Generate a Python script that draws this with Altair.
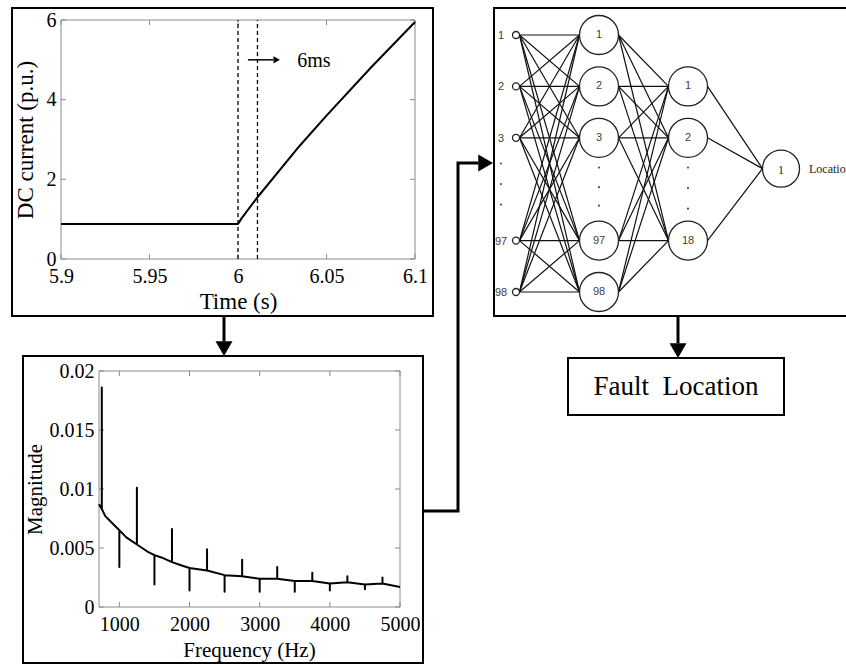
import altair as alt
import numpy as np
import pandas as pd

W, H = 846, 665
SERIF = "Liberation Serif"
SANS = "Liberation Sans"
FRAME = "#8c8c8c"

# ---------------- data ----------------
# DC current after the fault
time_s = [5.9, 6.0, 6.002, 6.011, 6.035, 6.05, 6.075, 6.1]
current_pu = [0.88, 0.88, 1.02, 1.55, 2.85, 3.6, 4.8, 5.95]
window_marks_s = [6.0, 6.011]
window_note = "6ms"
top_x_ticks = [5.9, 5.95, 6.0, 6.05, 6.1]
top_y_ticks = [0, 2, 4, 6]

# spectrum of the DC current
base_freq = [710, 750, 800, 900, 1000, 1100, 1250, 1400, 1500, 1600, 1750, 1900,
             2000, 2250, 2500, 2750, 3000, 3250, 3500, 3750, 4000, 4250, 4500, 4750, 5000]
base_mag = [0.0087, 0.0083, 0.0077, 0.0071, 0.0065, 0.0059, 0.0053, 0.0047, 0.0044,
            0.0042, 0.0038, 0.0035, 0.0033, 0.0031, 0.0027, 0.0026, 0.0024, 0.0024,
            0.0022, 0.0022, 0.0020, 0.0021, 0.0019, 0.0020, 0.0017]
spike_freq = [750, 1000, 1250, 1500, 1750, 2000, 2250, 2500, 2750, 3000, 3250, 3500,
              3750, 4000, 4250, 4500, 4750]
spike_mag = [0.0186, 0.0034, 0.0101, 0.0019, 0.0066, 0.0014, 0.0049, 0.0013, 0.0040,
             0.0013, 0.0034, 0.0013, 0.0029, 0.0014, 0.0026, 0.0015, 0.0025]
bot_x_ticks = [1000, 2000, 3000, 4000, 5000]
bot_y_ticks = [0, 0.005, 0.01, 0.015, 0.02]

# neural network
input_labels = ["1", "2", "3", "97", "98"]
hidden1_labels = ["1", "2", "3", "97", "98"]
hidden2_labels = ["1", "2", "18"]
output_labels = ["1"]
output_name = "Location"
result_label = "Fault\u00a0 Location"

# ---------------- layout (pixels) ----------------
TOP_PX_X, TOP_PX_Y = [61, 415], [259, 20]
BOT_PX_X, BOT_PX_Y = [99, 400], [607, 371]
TICK_PX = 5


def panel(xdom, ydom, pxx, pxy, xticks, yticks, xtitle, ytitle, xt_pos, yt_pos,
          lsize, tsize, curve_df, curve_width, extra, xfmt, yfmt):
    def xs():
        return alt.Scale(domain=xdom, range=pxx, nice=False, zero=False)

    def ys():
        return alt.Scale(domain=ydom, range=pxy, nice=False, zero=False)

    def ex(f):
        return alt.X(f, scale=xs(), axis=None)

    def ey(f):
        return alt.Y(f, scale=ys(), axis=None)

    kx = TICK_PX * (xdom[1] - xdom[0]) / (pxx[1] - pxx[0])
    ky = TICK_PX * (ydom[1] - ydom[0]) / (pxy[0] - pxy[1])

    rows = []
    for v in xticks:
        rows.append(dict(x=v, x2=v, y=ydom[0], y2=ydom[0] + ky))
        rows.append(dict(x=v, x2=v, y=ydom[1], y2=ydom[1] - ky))
    for v in yticks:
        rows.append(dict(x=xdom[0], x2=xdom[0] + kx, y=v, y2=v))
        rows.append(dict(x=xdom[1], x2=xdom[1] - kx, y=v, y2=v))
    ticks = alt.Chart(pd.DataFrame(rows)).mark_rule(color=FRAME, strokeWidth=1).encode(
        x=ex("x:Q"), x2="x2:Q", y=ey("y:Q"), y2="y2:Q")

    frame = alt.Chart(pd.DataFrame([dict(x=xdom[0], x2=xdom[1], y=ydom[0], y2=ydom[1])])).mark_rect(
        fillOpacity=0, stroke=FRAME, strokeWidth=1).encode(
        x=ex("x:Q"), x2="x2:Q", y=ey("y:Q"), y2="y2:Q")

    common = dict(domain=False, ticks=False, grid=False, labelFont=SERIF, labelFontSize=lsize,
                  labelColor="black", titleFont=SERIF, titleFontSize=tsize,
                  titleFontWeight="normal", titleColor="black", titleAlign="center",
                  titleBaseline="middle", labelFlush=False, labelOverlap=False)
    xaxis = alt.Axis(orient="bottom", offset=pxy[0] - H, values=xticks, labelPadding=7,
                     format=xfmt, title=xtitle, titleX=xt_pos[0],
                     titleY=xt_pos[1] - pxy[0], **common)
    yaxis = alt.Axis(orient="left", offset=-pxx[0], values=yticks, labelPadding=5,
                     format=yfmt, title=ytitle, titleX=yt_pos[0] - pxx[0], titleY=yt_pos[1],
                     titleAngle=270, **common)

    curve = alt.Chart(curve_df).mark_line(color="black", strokeWidth=curve_width,
                                         strokeJoin="round").encode(
        x=alt.X("x:Q", scale=xs(), axis=xaxis),
        y=alt.Y("y:Q", scale=ys(), axis=yaxis),
        order="i:Q")
    return [frame, ticks] + extra(ex, ey) + [curve]


# ---------- top panel: DC current ----------
top_df = pd.DataFrame({"x": time_s, "y": current_pu, "i": range(len(time_s))})


def top_extra(ex, ey):
    px_per_unit = (TOP_PX_X[1] - TOP_PX_X[0]) / 0.2
    marks = alt.Chart(pd.DataFrame({"x": window_marks_s, "y": 0, "y2": 6})).mark_rule(
        color="black", strokeWidth=1.3, strokeDash=[4, 3]).encode(
        x=ex("x:Q"), y=ey("y:Q"), y2="y2:Q")
    a_start, a_tip, a_y = 6.0056, 6.0237, 5.0
    head_len = 6.5 / px_per_unit
    shaft = alt.Chart(pd.DataFrame({"x": [a_start], "x2": [a_tip - head_len], "y": [a_y]})).mark_rule(
        color="black", strokeWidth=1.5).encode(
        x=ex("x:Q"), x2="x2:Q", y=ey("y:Q"))
    head = alt.Chart(pd.DataFrame({"x": [a_tip - head_len / 2], "y": [a_y]})).mark_point(
        shape="triangle-right", filled=True, color="black", opacity=1, size=55).encode(
        x=ex("x:Q"), y=ey("y:Q"))
    note = alt.Chart(pd.DataFrame({"x": [6.0335], "y": [a_y], "t": [window_note]})).mark_text(
        font=SERIF, fontSize=20, align="left", baseline="middle", color="black", dy=1).encode(
        x=ex("x:Q"), y=ey("y:Q"), text="t:N")
    return [marks, shaft, head, note]


top_layers = panel([5.9, 6.1], [0, 6], TOP_PX_X, TOP_PX_Y, top_x_ticks, top_y_ticks,
                   "Time (s)", "DC current (p.u.)", (238, 301), (25, 139.5),
                   20, 23, top_df, 2, top_extra, "~g", "d")

# ---------- bottom panel: spectrum ----------
pts_f, pts_m = [], []
spikes = dict(zip(spike_freq, spike_mag))
for f, m in zip(base_freq, base_mag):
    pts_f.append(f)
    pts_m.append(m)
    if f in spikes:
        pts_f += [f, f]
        pts_m += [spikes[f], m]
spec_df = pd.DataFrame({"x": pts_f, "y": pts_m, "i": range(len(pts_f))})

bottom_layers = panel([710, 5000], [0, 0.02], BOT_PX_X, BOT_PX_Y, bot_x_ticks, bot_y_ticks,
                      "Frequency (Hz)", "Magnitude", (249, 650), (35, 489),
                      20, 21, spec_df, 2, lambda ex, ey: [], "d", "~g")


# ---------- diagram: boxes, arrows, neural network ----------
def X(f):
    return alt.X(f, scale=alt.Scale(domain=[0, W], range=[0, W], nice=False, zero=False), axis=None)


def Y(f):
    return alt.Y(f, scale=alt.Scale(domain=[0, H], range=[0, H], nice=False, zero=False), axis=None)


boxes = pd.DataFrame([
    dict(x=12, x2=433, y=8, y2=316),
    dict(x=23, x2=423, y=356, y2=663),
    dict(x=494, x2=880, y=8, y2=316),
    dict(x=568, x2=784, y=358, y2=415),
])
box_layer = alt.Chart(boxes).mark_rect(fillOpacity=0, stroke="black", strokeWidth=2).encode(
    x=X("x:Q"), x2="x2:Q", y=Y("y:Q"), y2="y2:Q")

HEAD = 17  # arrowhead width in px
HEAD_H = HEAD * np.sqrt(3) / 2
paths = [
    [(224, 316), (224, 356 - HEAD_H)],
    [(423, 511), (458, 511), (458, 163), (493 - HEAD_H, 163)],
    [(678, 316), (678, 358 - HEAD_H)],
]
prow = []
for k, p in enumerate(paths):
    for j, (x, y) in enumerate(p):
        prow.append(dict(p=k, o=j, x=x, y=y))
path_layer = alt.Chart(pd.DataFrame(prow)).mark_line(
    color="black", strokeWidth=3, strokeJoin="miter", strokeCap="butt").encode(
    x=X("x:Q"), y=Y("y:Q"), detail="p:N", order="o:Q")
heads = pd.DataFrame([
    dict(x=224, y=356 - HEAD_H / 2, s="triangle-down"),
    dict(x=493 - HEAD_H / 2, y=163, s="triangle-right"),
    dict(x=678, y=358 - HEAD_H / 2, s="triangle-down"),
])
head_layer = alt.Chart(heads).mark_point(filled=True, color="black", opacity=1,
                                         size=HEAD * HEAD).encode(
    x=X("x:Q"), y=Y("y:Q"), shape=alt.Shape("s:N", scale=None))

result_text = alt.Chart(pd.DataFrame({"x": [676], "y": [387], "t": [result_label]})).mark_text(
    font=SERIF, fontSize=27, color="black", align="center", baseline="middle").encode(
    x=X("x:Q"), y=Y("y:Q"), text="t:N")

# neural network geometry
LAYER_X = [516, 599, 688, 781]
LAYER_R = [3.5, 19.5, 19.5, 18.5]
SLOT_Y0, SLOT_DY = 35, 51.4
layer_slots = [[0, 1, 2, 4, 5], [0, 1, 2, 4, 5], [1, 2, 4], [2.6]]
layer_labels = [input_labels, hidden1_labels, hidden2_labels, output_labels]

nodes = []
for li, (slots, labs) in enumerate(zip(layer_slots, layer_labels)):
    for s, lab in zip(slots, labs):
        nodes.append(dict(layer=li, x=LAYER_X[li], y=SLOT_Y0 + SLOT_DY * s, r=LAYER_R[li], label=lab))
nodes = pd.DataFrame(nodes)

edges = []
for li in range(3):
    a = nodes[nodes.layer == li]
    b = nodes[nodes.layer == li + 1]
    for _, na in a.iterrows():
        for _, nb in b.iterrows():
            edges.append(dict(x=na.x + na.r, y=na.y, x2=nb.x - nb.r, y2=nb.y))
edge_layer = alt.Chart(pd.DataFrame(edges)).mark_rule(color="#111111", strokeWidth=1.2).encode(
    x=X("x:Q"), y=Y("y:Q"), x2="x2:Q", y2="y2:Q")

big = nodes[nodes.layer > 0].copy()
big["size"] = (2 * big.r) ** 2
big_layer = alt.Chart(big).mark_point(shape="circle", filled=True, fill="white", stroke="#222222",
                                      strokeWidth=1.3, opacity=1).encode(
    x=X("x:Q"), y=Y("y:Q"), size=alt.Size("size:Q", scale=None))
small = nodes[nodes.layer == 0]
small_layer = alt.Chart(small).mark_point(shape="circle", filled=True, fill="white",
                                          stroke="#222222", strokeWidth=1.3, opacity=1,
                                          size=(2 * LAYER_R[0]) ** 2).encode(
    x=X("x:Q"), y=Y("y:Q"))

hid_text = alt.Chart(nodes[(nodes.layer > 0) & (nodes.layer < 3)]).mark_text(
    font=SANS, fontSize=11, color="#404040", align="center", baseline="middle").encode(
    x=X("x:Q"), y=Y("y:Q"), text="label:N")
out_text = alt.Chart(nodes[nodes.layer == 3]).mark_text(
    font=SERIF, fontSize=12, color="#222222", align="center", baseline="middle", dy=1).encode(
    x=X("x:Q"), y=Y("y:Q"), text="label:N")
in_text = alt.Chart(small.assign(lx=501)).mark_text(
    font=SANS, fontSize=11, color="#404040", align="center", baseline="middle", dy=1).encode(
    x=X("lx:Q"), y=Y("y:Q"), text="label:N")
name_text = alt.Chart(pd.DataFrame({"x": [LAYER_X[3] + 28], "y": [SLOT_Y0 + SLOT_DY * 2.6],
                                    "t": [output_name]})).mark_text(
    font=SERIF, fontSize=12, color="#222222", align="left", baseline="middle").encode(
    x=X("x:Q"), y=Y("y:Q"), text="t:N")

dot_cols = [501, LAYER_X[1], LAYER_X[2]]
dot_slots = [[2.5, 2.9, 3.3], [2.58, 2.96, 3.32], [2.58, 2.98, 3.38]]
dots = []
for cx, sl in zip(dot_cols, dot_slots):
    for s in sl:
        dots.append(dict(x=cx, y=SLOT_Y0 + SLOT_DY * s))
dot_layer = alt.Chart(pd.DataFrame(dots)).mark_circle(color="#555555", size=5, opacity=1).encode(
    x=X("x:Q"), y=Y("y:Q"))

diagram_layers = [box_layer, path_layer, head_layer, result_text, edge_layer,
                  big_layer, small_layer, hid_text, out_text, in_text, name_text, dot_layer]

chart = alt.layer(*top_layers, *bottom_layers, *diagram_layers).resolve_scale(
    x="independent", y="independent").properties(
    width=W, height=H, autosize="none", padding=0, background="white"
).configure_view(stroke=None)

chart.save("out.html", embed_options={"renderer": "svg", "actions": False})
